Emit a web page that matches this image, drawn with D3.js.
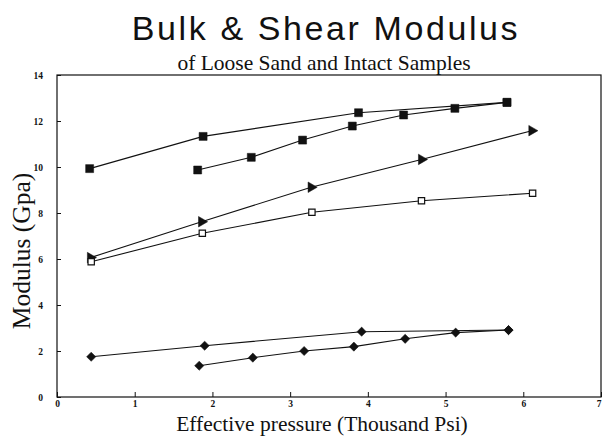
<!DOCTYPE html>
<html>
<head>
<meta charset="utf-8">
<script src="https://cdn.jsdelivr.net/npm/d3@7"></script>
<style>
  html, body { margin: 0; padding: 0; background: #fff; }
  svg { display: block; }
  .title    { font-family: 'Liberation Sans', Arial, sans-serif; }
  .serif    { font-family: 'Liberation Serif', 'Times New Roman', serif; }
</style>
</head>
<body>
<div id="chart"></div>
<script>
// ── Data ───────────────────────────────────────────────────────────────────────
const xTicks = [0, 1, 2, 3, 4, 5, 6, 7];
const yTicks = [0, 2, 4, 6, 8, 10, 12, 14];

// filled squares, upper (4 points)
const squareTopX = [0.42, 1.88, 3.88, 5.79];
const squareTopY = [9.93, 11.33, 12.36, 12.81];

// filled squares, lower (7 points)
const squareLowX = [1.81, 2.50, 3.16, 3.80, 4.46, 5.12, 5.79];
const squareLowY = [9.87, 10.42, 11.17, 11.78, 12.26, 12.55, 12.81];

// right-pointing triangles
const triangleX = [0.43, 1.86, 3.27, 4.69, 6.11];
const triangleY = [6.06, 7.62, 9.12, 10.33, 11.58];

// open squares
const openSquareX = [0.44, 1.87, 3.28, 4.69, 6.12];
const openSquareY = [5.88, 7.12, 8.03, 8.53, 8.86];

// filled diamonds, upper (4 points)
const diamondTopX = [0.44, 1.90, 3.92, 5.81];
const diamondTopY = [1.75, 2.23, 2.84, 2.91];

// filled diamonds, lower (7 points)
const diamondLowX = [1.83, 2.52, 3.18, 3.82, 4.48, 5.13, 5.81];
const diamondLowY = [1.36, 1.71, 2.00, 2.19, 2.53, 2.80, 2.91];

(function () {
  'use strict';

  const W = 602, H = 437;
  const margin = { left: 57, right: 1, top: 75, bottom: 40 };
  const width  = W - margin.left - margin.right;
  const height = H - margin.top - margin.bottom;

  const svg = d3.select('#chart').append('svg')
    .attr('width', W).attr('height', H);

  // ── Titles ────────────────────────────────────────────────────────────────────
  svg.append('text').attr('class', 'title')
    .attr('x', 326).attr('y', 40)
    .attr('text-anchor', 'middle').attr('font-size', 34).attr('letter-spacing', 2.6)
    .attr('fill', '#111')
    .text('Bulk & Shear Modulus');

  svg.append('text').attr('class', 'serif')
    .attr('x', 324).attr('y', 70)
    .attr('text-anchor', 'middle').attr('font-size', 21.5).attr('fill', '#111')
    .text('of Loose Sand and Intact Samples');

  const g = svg.append('g')
    .attr('transform', `translate(${margin.left},${margin.top})`);

  const x = d3.scaleLinear().domain([0, 7]).range([0, width]);
  const y = d3.scaleLinear().domain([0, 14]).range([height, 0]);

  // ── Frame + inward ticks ──────────────────────────────────────────────────────
  g.append('rect')
    .attr('x', 0).attr('y', 0).attr('width', width).attr('height', height)
    .attr('fill', 'none').attr('stroke', '#111').attr('stroke-width', 1.2);

  const xAxis = g.append('g')
    .attr('transform', `translate(0,${height})`)
    .call(d3.axisBottom(x).tickValues(xTicks).tickFormat(d3.format('d'))
      .tickSizeInner(-5).tickSizeOuter(0).tickPadding(3));
  const yAxis = g.append('g')
    .call(d3.axisLeft(y).tickValues(yTicks).tickFormat(d3.format('d'))
      .tickSizeInner(-4).tickSizeOuter(0).tickPadding(14));

  [xAxis, yAxis].forEach(ax => {
    ax.select('.domain').remove();
    ax.selectAll('line').attr('stroke', '#111');
    ax.selectAll('text')
      .attr('class', 'serif')
      .attr('font-size', 9.5).attr('font-weight', 'bold').attr('fill', '#111');
  });

  // last x label sits on the right edge of the frame
  xAxis.selectAll('.tick').filter(d => d === 7).select('text').attr('text-anchor', 'end');

  // ── Axis labels ───────────────────────────────────────────────────────────────
  svg.append('text').attr('class', 'serif')
    .attr('x', 322).attr('y', 431)
    .attr('text-anchor', 'middle').attr('font-size', 21.5).attr('fill', '#111')
    .text('Effective pressure (Thousand Psi)');

  svg.append('text').attr('class', 'serif')
    .attr('transform', 'translate(30,251) rotate(-90)')
    .attr('text-anchor', 'middle').attr('font-size', 25.5).attr('fill', '#111')
    .text('Modulus (Gpa)');

  // ── Series ────────────────────────────────────────────────────────────────────
  const zip = (xs, ys) => xs.map((v, i) => [v, ys[i]]);

  const series = [
    { pts: zip(squareTopX,  squareTopY),  marker: 'square'   },
    { pts: zip(squareLowX,  squareLowY),  marker: 'square'   },
    { pts: zip(triangleX,   triangleY),   marker: 'triangle' },
    { pts: zip(openSquareX, openSquareY), marker: 'open'     },
    { pts: zip(diamondTopX, diamondTopY), marker: 'diamond'  },
    { pts: zip(diamondLowX, diamondLowY), marker: 'diamond'  },
  ];

  const line = d3.line().x(d => x(d[0])).y(d => y(d[1]));

  const markerPath = {
    square:   d3.symbol(d3.symbolSquare, 64)(),
    open:     d3.symbol(d3.symbolSquare, 40)(),
    diamond:  d3.symbol(d3.symbolSquare, 42)(),
    triangle: d3.symbol(d3.symbolTriangle, 48)(),
  };
  const markerRotate = { square: 0, open: 0, diamond: 45, triangle: 90 };

  series.forEach(s => {
    g.append('path')
      .datum(s.pts)
      .attr('fill', 'none').attr('stroke', '#111').attr('stroke-width', 1.1)
      .attr('d', line);

    g.selectAll(null)
      .data(s.pts)
      .join('path')
      .attr('d', markerPath[s.marker])
      .attr('transform', d => `translate(${x(d[0])},${y(d[1])}) rotate(${markerRotate[s.marker]})`)
      .attr('fill', s.marker === 'open' ? '#fff' : '#111')
      .attr('stroke', '#111')
      .attr('stroke-width', s.marker === 'open' ? 1.2 : 0.5);
  });
})();
</script>
</body>
</html>
